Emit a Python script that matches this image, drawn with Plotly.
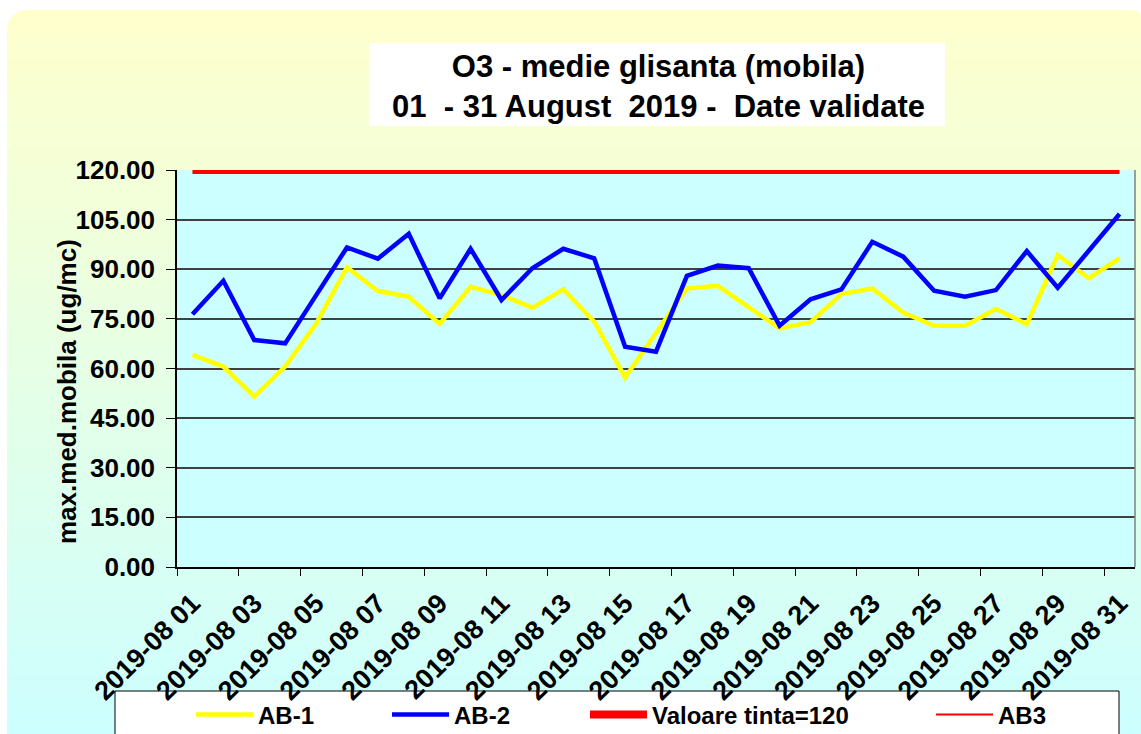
import plotly.graph_objects as go

days = ["2019-08 %02d" % d for d in range(1, 32)]
ab1 = [64.1, 60.6, 51.5, 60.6, 73.5, 90.6, 83.4, 81.7, 73.5, 84.7,
       82.2, 78.4, 83.9, 74.2, 57.3, 70.5, 84.2, 85.0, 78.7, 72.1,
       74.0, 82.5, 84.2, 76.9, 72.9, 72.9, 78.0, 73.4, 94.3, 87.3, 93.3]
ab2 = [76.4, 86.5, 68.6, 67.6, 82.1, 96.6, 93.2, 100.7, 81.2, 96.2,
       80.7, 90.3, 96.2, 93.3, 66.6, 65.1, 88.0, 91.1, 90.3, 72.9,
       80.9, 83.9, 98.3, 93.8, 83.5, 81.7, 83.7, 95.5, 84.4, 95.6, 106.7]
target_value = 120
target = [target_value] * len(days)
ab3 = [None] * len(days)

W, H = 1141, 734
ML, MR, MT, MB = 177, 6, 170, 167
PW = W - ML - MR
PH = H - MT - MB


def xp(px):
    return (px - ML) / PW


def yp(py):
    return (H - MB - py) / PH


FONT = "Arial, Liberation Sans, sans-serif"

fig = go.Figure()
fig.add_trace(go.Scatter(x=days, y=ab1, name="AB-1", mode="lines",
                         line=dict(color="#FFFF00", width=4.5), legend="legend"))
fig.add_trace(go.Scatter(x=days, y=ab2, name="AB-2", mode="lines",
                         line=dict(color="#0000FF", width=4.5), legend="legend2"))
fig.add_trace(go.Scatter(x=days, y=target, name="Valoare tinta=120", mode="lines",
                         line=dict(color="#FF0000", width=8), legend="legend3"))
fig.add_trace(go.Scatter(x=days, y=ab3, name="AB3", mode="lines",
                         line=dict(color="#FF0000", width=2), legend="legend4"))

shapes = []
# gradient background
top, bot = 10, 740
n = 90
c0 = (255, 255, 204)
c1 = (204, 255, 255)
for i in range(n):
    y0 = top + (bot - top) * i / n
    y1 = top + (bot - top) * (i + 1) / n + 0.5
    t = (i + 0.5) / n
    col = "rgb(%d,%d,%d)" % tuple(round(a + (b - a) * t) for a, b in zip(c0, c1))
    shapes.append(dict(type="rect", xref="paper", yref="paper", layer="below",
                       x0=xp(7), x1=xp(1145), y0=yp(y0), y1=yp(y1),
                       fillcolor=col, line=dict(width=0)))
# rounded corner masks
r = 26
shapes.append(dict(type="path", xref="paper", yref="paper", layer="below",
                   path="M %f,%f L %f,%f Q %f,%f %f,%f Z" % (
                       xp(6), yp(9), xp(7 + r), yp(9), xp(6), yp(9), xp(6), yp(10 + r)),
                   fillcolor="white", line=dict(width=0)))
r2 = 12
shapes.append(dict(type="path", xref="paper", yref="paper", layer="below",
                   path="M %f,%f L %f,%f Q %f,%f %f,%f Z" % (
                       xp(1142), yp(9), xp(1141 - r2), yp(9), xp(1142), yp(9), xp(1142), yp(10 + r2)),
                   fillcolor="white", line=dict(width=0)))
# plot area
shapes.append(dict(type="rect", xref="paper", yref="paper", layer="below",
                   x0=0, x1=1, y0=0, y1=1, fillcolor="#CCFFFF", line=dict(width=0)))
# right border
shapes.append(dict(type="line", xref="paper", yref="paper", layer="above",
                   x0=1, x1=1, y0=0, y1=1, line=dict(color="#808080", width=1.5)))
# title box
shapes.append(dict(type="rect", xref="paper", yref="paper", layer="below",
                   x0=xp(369), x1=xp(945), y0=yp(126), y1=yp(43),
                   fillcolor="white", line=dict(width=0)))
# legend box
shapes.append(dict(type="rect", xref="paper", yref="paper", layer="below",
                   x0=xp(115), x1=xp(1119), y0=yp(745), y1=yp(691),
                   fillcolor="white", line=dict(color="black", width=1)))

title_text = ("<b>O3 - medie glisanta (mobila)<br>"
              "01 \u00a0- 31 August \u00a02019 - \u00a0Date validate</b>")
annotations = [
    dict(text=title_text,
         xref="paper", yref="paper", x=xp(658), y=yp(86), xanchor="center", yanchor="middle",
         showarrow=False, font=dict(family=FONT, size=31, color="black")),
    dict(text="<b>max.med.mobila (ug/mc)</b>", textangle=-90,
         xref="paper", yref="paper", x=xp(67), y=yp(392), xanchor="center", yanchor="middle",
         showarrow=False, font=dict(family=FONT, size=26, color="black")),
]


def leg(px):
    return dict(orientation="h", x=xp(px), xanchor="left", y=yp(715), yanchor="middle",
                bgcolor="rgba(0,0,0,0)", borderwidth=0,
                font=dict(family=FONT, size=24, color="black", weight="bold"),
                itemwidth=57)


fig.update_layout(
    width=W, height=H,
    margin=dict(l=ML, r=MR, t=MT, b=MB, pad=0, autoexpand=False),
    paper_bgcolor="white",
    plot_bgcolor="rgba(0,0,0,0)",
    shapes=shapes,
    annotations=annotations,
    showlegend=True,
    legend=leg(191),
    legend2=leg(387),
    legend3=leg(585),
    legend4=leg(931),
    xaxis=dict(type="category", range=[-0.5, len(days) - 0.5], automargin=False,
               tickmode="linear", tick0=0, dtick=2, tickson="boundaries",
               ticks="outside", ticklen=7, tickcolor="black", tickwidth=1,
               tickangle=-45, showgrid=False, zeroline=False,
               showline=True, linecolor="black", linewidth=1.5,
               ticklabelstandoff=8,
               tickfont=dict(family=FONT, size=27, color="black", weight="bold")),
    yaxis=dict(range=[0, 120], tickmode="linear", tick0=0, dtick=15, automargin=False,
               tickformat=".2f", ticks="outside", ticklen=9, tickcolor="black",
               showgrid=True, gridcolor="#404040", gridwidth=1.5, zeroline=False,
               showline=True, linecolor="black", linewidth=1.5,
               ticklabelstandoff=6,
               tickfont=dict(family=FONT, size=26, color="black", weight="bold")),
)

fig.write_html("out.html", post_script="document.body.style.margin='0';",
               config={"displayModeBar": False})
